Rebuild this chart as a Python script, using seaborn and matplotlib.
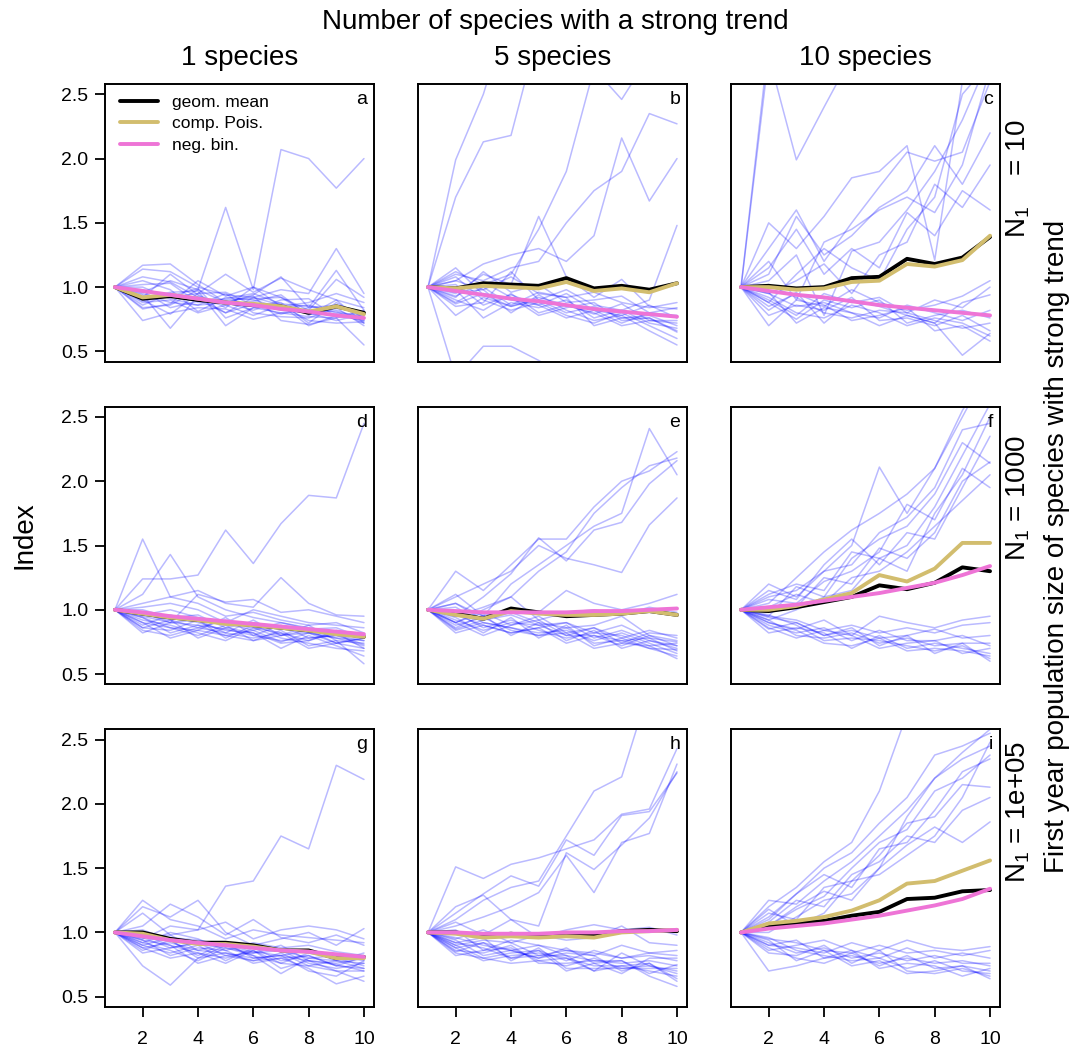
import numpy as np
import pandas as pd
import matplotlib.pyplot as plt
import seaborn as sns

# ------------------------------------- data -------------------------------------------
# index value per year (year 1 = 1.0) for every simulated species

years = list(range(1, 11))

# row 1: N1 = 10
a_species = [
    [1.0, 0.96, 1.05, 0.98, 1.62, 0.98, 2.07, 2.00, 1.77, 2.00],
    [1.0, 1.14, 1.12, 1.00, 0.94, 0.92, 0.98, 0.95, 1.30, 0.95],
    [1.0, 1.17, 1.18, 1.02, 0.88, 0.94, 1.08, 0.84, 1.13, 0.82],
    [1.0, 0.83, 0.87, 1.05, 0.93, 1.00, 0.92, 0.82, 1.06, 0.92],
    [1.0, 0.90, 0.79, 0.95, 1.10, 0.96, 1.07, 0.98, 0.90, 0.84],
    [1.0, 0.94, 0.68, 0.93, 0.86, 0.89, 0.94, 0.78, 0.90, 0.72],
    [1.0, 0.86, 0.95, 0.90, 0.80, 0.92, 0.86, 0.70, 0.78, 0.74],
    [1.0, 0.74, 0.80, 0.84, 0.83, 0.75, 0.80, 0.77, 0.76, 0.55],
    [1.0, 1.02, 1.03, 0.88, 0.91, 0.95, 0.87, 0.85, 0.82, 0.75],
    [1.0, 0.91, 0.96, 0.97, 0.70, 0.84, 0.88, 0.72, 0.88, 0.76],
    [1.0, 1.05, 0.98, 0.81, 0.92, 0.90, 0.84, 0.86, 0.80, 0.78],
    [1.0, 0.88, 0.90, 0.80, 0.86, 0.78, 0.86, 0.74, 0.72, 0.73],
    [1.0, 0.98, 0.92, 0.95, 0.96, 0.86, 0.79, 0.84, 0.86, 0.80],
    [1.0, 0.84, 0.86, 0.98, 0.88, 0.82, 0.90, 0.91, 0.77, 0.76],
    [1.0, 1.08, 1.04, 0.92, 0.80, 0.87, 0.82, 0.80, 0.74, 0.79],
    [1.0, 0.95, 0.88, 0.86, 0.95, 0.80, 0.77, 0.76, 0.84, 0.70],
    [1.0, 0.92, 1.10, 0.94, 0.84, 1.00, 0.85, 0.88, 0.95, 0.88],
    [1.0, 0.97, 0.84, 0.89, 0.90, 0.91, 0.92, 0.79, 0.79, 0.74],
    [1.0, 0.89, 0.93, 0.99, 0.76, 0.84, 0.80, 0.82, 0.81, 0.72],
    [1.0, 1.00, 0.91, 0.86, 0.88, 0.93, 0.74, 0.71, 0.76, 0.82],
]
a_geom = [1.0, 0.91, 0.93, 0.90, 0.88, 0.86, 0.85, 0.80, 0.85, 0.80]
a_pois = [1.0, 0.92, 0.94, 0.91, 0.88, 0.87, 0.85, 0.81, 0.85, 0.79]
a_negbin = [1.0, 0.97, 0.94, 0.91, 0.88, 0.86, 0.83, 0.81, 0.78, 0.76]

b_species = [
    [1.0, 1.99, 2.50, 3.20, 3.50, 3.60, 3.40, 3.80, 3.50, 3.90],
    [1.0, 1.70, 2.13, 2.18, 3.00, 3.20, 3.10, 3.50, 3.30, 3.60],
    [1.0, 1.05, 1.18, 1.25, 1.30, 1.20, 1.40, 2.16, 1.67, 2.00],
    [1.0, 1.10, 1.05, 1.15, 1.20, 1.50, 1.75, 1.90, 2.35, 2.27],
    [1.0, 1.12, 1.02, 1.10, 1.45, 1.90, 2.70, 2.46, 2.80, 3.00],
    [1.0, 0.78, 0.92, 0.85, 0.90, 0.98, 0.86, 0.82, 0.90, 1.48],
    [1.0, 0.95, 1.10, 1.02, 1.55, 1.08, 0.92, 1.06, 0.85, 0.83],
    [1.0, 0.30, 0.54, 0.54, 0.43, 0.30, 0.20, 0.20, 0.20, 0.20],
    [1.0, 1.05, 0.98, 1.08, 0.95, 0.92, 0.96, 0.88, 0.84, 0.88],
    [1.0, 0.92, 1.12, 0.96, 1.02, 0.88, 0.90, 0.93, 0.80, 0.84],
    [1.0, 0.87, 0.95, 0.90, 0.86, 0.95, 0.82, 0.78, 0.86, 0.76],
    [1.0, 1.15, 0.94, 0.85, 0.92, 0.86, 0.79, 0.87, 0.74, 0.74],
    [1.0, 0.85, 0.88, 1.12, 0.90, 0.80, 0.85, 0.76, 0.78, 0.70],
    [1.0, 0.98, 0.76, 0.88, 0.84, 0.90, 0.76, 0.82, 0.72, 0.68],
    [1.0, 0.93, 1.04, 0.92, 0.78, 0.84, 0.88, 0.74, 0.76, 0.65],
    [1.0, 1.08, 0.90, 0.82, 0.88, 0.78, 0.72, 0.80, 0.70, 0.60],
    [1.0, 0.90, 0.82, 0.95, 0.80, 0.86, 0.80, 0.70, 0.74, 0.72],
    [1.0, 0.96, 0.98, 0.80, 0.94, 0.82, 0.74, 0.78, 0.66, 0.55],
    [1.0, 1.02, 0.86, 0.94, 0.86, 0.76, 0.82, 0.72, 0.80, 0.78],
    [1.0, 0.88, 1.00, 0.86, 0.96, 0.92, 0.70, 0.76, 0.76, 0.66],
]
b_geom = [1.0, 0.99, 1.03, 1.02, 1.01, 1.07, 0.99, 1.01, 0.98, 1.03]
b_pois = [1.0, 0.99, 1.01, 1.00, 0.99, 1.04, 0.97, 0.99, 0.96, 1.03]
b_negbin = [1.0, 0.97, 0.94, 0.91, 0.89, 0.86, 0.83, 0.81, 0.79, 0.77]

c_species = [
    [1.0, 2.90, 3.20, 3.00, 3.40, 3.20, 3.50, 3.30, 3.60, 3.80],
    [1.0, 2.80, 1.99, 2.40, 2.80, 3.00, 2.90, 3.10, 3.20, 3.30],
    [1.0, 1.50, 1.30, 1.55, 1.85, 1.90, 2.10, 1.21, 2.60, 2.90],
    [1.0, 1.30, 1.60, 1.20, 1.50, 1.78, 2.05, 1.98, 2.05, 2.60],
    [1.0, 1.10, 1.55, 1.25, 1.40, 1.62, 1.75, 2.10, 1.80, 2.20],
    [1.0, 1.20, 0.90, 1.35, 1.45, 1.60, 1.70, 1.58, 1.95, 2.70],
    [1.0, 1.05, 1.25, 0.78, 1.28, 1.35, 1.60, 1.90, 2.30, 2.80],
    [1.0, 0.95, 1.05, 1.18, 0.95, 1.25, 1.35, 1.80, 1.62, 1.95],
    [1.0, 1.15, 1.45, 1.10, 1.30, 1.15, 1.58, 1.40, 1.75, 1.60],
    [1.0, 0.88, 1.10, 1.30, 1.15, 1.05, 1.45, 1.70, 2.50, 2.75],
    [1.0, 0.70, 0.90, 0.85, 0.98, 0.88, 0.82, 0.86, 0.93, 1.05],
    [1.0, 0.90, 0.78, 0.95, 0.88, 0.92, 0.80, 0.90, 0.84, 1.00],
    [1.0, 0.82, 0.96, 0.72, 0.90, 0.85, 0.78, 0.72, 0.88, 0.94],
    [1.0, 0.95, 0.85, 0.88, 0.80, 0.76, 0.86, 0.80, 0.74, 0.82],
    [1.0, 0.88, 0.75, 0.90, 0.84, 0.90, 0.72, 0.78, 0.82, 0.76],
    [1.0, 1.02, 0.92, 0.80, 0.76, 0.82, 0.80, 0.74, 0.68, 0.72],
    [1.0, 0.78, 0.86, 0.82, 0.92, 0.74, 0.76, 0.70, 0.78, 0.66],
    [1.0, 0.92, 0.80, 0.76, 0.86, 0.80, 0.70, 0.76, 0.72, 0.62],
    [1.0, 0.85, 0.95, 0.86, 0.74, 0.78, 0.84, 0.66, 0.70, 0.58],
    [1.0, 0.96, 0.72, 0.84, 0.80, 0.70, 0.78, 0.72, 0.47, 0.64],
]
c_geom = [1.0, 1.01, 0.99, 1.00, 1.07, 1.08, 1.22, 1.18, 1.23, 1.39]
c_pois = [1.0, 1.00, 0.98, 0.99, 1.04, 1.05, 1.18, 1.16, 1.21, 1.40]
c_negbin = [1.0, 0.97, 0.94, 0.92, 0.89, 0.86, 0.84, 0.82, 0.80, 0.78]

# row 2: N1 = 1000
d_species = [
    [1.0, 1.24, 1.24, 1.27, 1.62, 1.36, 1.67, 1.89, 1.87, 2.45],
    [1.0, 1.55, 1.10, 1.05, 0.95, 0.98, 0.92, 0.88, 0.90, 0.82],
    [1.0, 1.12, 1.43, 1.10, 1.00, 0.94, 0.90, 0.85, 0.86, 0.78],
    [1.0, 1.05, 1.10, 1.15, 1.05, 1.02, 1.25, 1.05, 0.96, 0.95],
    [1.0, 0.95, 0.90, 1.12, 1.06, 1.08, 0.98, 1.00, 0.95, 0.90],
    [1.0, 1.02, 1.05, 1.00, 0.90, 1.00, 0.95, 0.90, 0.88, 0.86],
    [1.0, 0.82, 0.90, 0.88, 0.85, 0.80, 0.88, 0.78, 0.80, 0.76],
    [1.0, 0.90, 0.78, 0.84, 0.80, 0.84, 0.75, 0.82, 0.78, 0.72],
    [1.0, 0.96, 0.92, 0.86, 0.92, 0.86, 0.82, 0.76, 0.84, 0.80],
    [1.0, 0.86, 0.84, 0.92, 0.78, 0.88, 0.80, 0.84, 0.74, 0.70],
    [1.0, 0.94, 0.86, 0.80, 0.88, 0.76, 0.84, 0.72, 0.76, 0.74],
    [1.0, 0.88, 0.96, 0.90, 0.84, 0.82, 0.70, 0.80, 0.72, 0.64],
    [1.0, 0.92, 0.88, 0.82, 0.76, 0.86, 0.78, 0.74, 0.70, 0.68],
    [1.0, 1.00, 0.94, 0.96, 0.86, 0.90, 0.86, 0.82, 0.78, 0.76],
    [1.0, 0.84, 0.80, 0.86, 0.82, 0.78, 0.82, 0.70, 0.74, 0.78],
    [1.0, 0.96, 1.00, 0.94, 0.90, 0.84, 0.90, 0.86, 0.82, 0.80],
    [1.0, 0.90, 0.86, 0.84, 0.94, 0.80, 0.76, 0.78, 0.80, 0.73],
    [1.0, 0.98, 0.90, 0.92, 0.82, 0.92, 0.80, 0.88, 0.76, 0.58],
    [1.0, 0.86, 0.92, 0.78, 0.86, 0.82, 0.74, 0.76, 0.82, 0.70],
    [1.0, 0.94, 0.82, 0.88, 0.80, 0.76, 0.80, 0.82, 0.74, 0.78],
]
d_geom = [1.0, 0.97, 0.94, 0.92, 0.90, 0.88, 0.86, 0.84, 0.82, 0.79]
d_pois = [1.0, 0.97, 0.94, 0.92, 0.89, 0.88, 0.86, 0.84, 0.81, 0.79]
d_negbin = [1.0, 0.98, 0.95, 0.93, 0.91, 0.89, 0.87, 0.85, 0.83, 0.81]

e_species = [
    [1.0, 1.05, 0.95, 1.20, 1.35, 1.50, 1.65, 1.75, 2.41, 2.05],
    [1.0, 0.90, 1.00, 1.10, 1.30, 1.45, 1.75, 1.95, 2.12, 2.18],
    [1.0, 1.30, 1.15, 1.35, 1.55, 1.55, 1.80, 2.00, 2.08, 2.23],
    [1.0, 1.10, 1.20, 1.30, 1.50, 1.40, 1.35, 1.29, 1.66, 1.87],
    [1.0, 0.95, 1.10, 1.28, 1.56, 1.38, 1.62, 1.68, 1.98, 2.16],
    [1.0, 1.12, 0.95, 1.00, 0.98, 1.15, 1.05, 1.00, 1.05, 1.12],
    [1.0, 0.95, 1.02, 1.10, 0.92, 0.98, 1.00, 0.96, 1.02, 0.98],
    [1.0, 0.85, 0.92, 0.98, 0.90, 0.86, 0.88, 0.95, 0.80, 0.72],
    [1.0, 0.90, 0.80, 0.88, 0.95, 0.82, 0.86, 0.78, 0.84, 0.78],
    [1.0, 0.82, 0.88, 0.82, 0.86, 0.90, 0.78, 0.84, 0.76, 0.70],
    [1.0, 0.98, 0.86, 0.92, 0.84, 0.78, 0.82, 0.80, 0.72, 0.74],
    [1.0, 0.88, 0.94, 0.84, 0.80, 0.86, 0.74, 0.76, 0.78, 0.68],
    [1.0, 0.92, 0.84, 0.90, 0.88, 0.80, 0.80, 0.72, 0.80, 0.76],
    [1.0, 1.02, 0.90, 0.86, 0.82, 0.84, 0.76, 0.82, 0.74, 0.66],
    [1.0, 0.86, 0.96, 0.80, 0.90, 0.76, 0.84, 0.70, 0.76, 0.72],
    [1.0, 0.94, 0.82, 0.94, 0.78, 0.88, 0.72, 0.78, 0.70, 0.64],
    [1.0, 0.90, 0.98, 0.88, 0.92, 0.80, 0.86, 0.74, 0.82, 0.80],
    [1.0, 0.96, 0.88, 0.82, 0.86, 0.74, 0.80, 0.76, 0.70, 0.69],
    [1.0, 0.84, 0.90, 0.86, 0.80, 0.82, 0.70, 0.74, 0.72, 0.62],
    [1.0, 1.05, 0.92, 0.96, 0.88, 0.90, 0.82, 0.88, 0.78, 0.75],
]
e_geom = [1.0, 0.97, 0.93, 1.01, 0.98, 0.95, 0.96, 0.97, 0.99, 0.96]
e_pois = [1.0, 0.96, 0.93, 0.99, 0.97, 0.96, 0.96, 0.97, 0.99, 0.96]
e_negbin = [1.0, 0.99, 0.98, 0.98, 0.98, 0.98, 0.99, 0.99, 1.00, 1.01]

f_species = [
    [1.0, 1.20, 1.10, 1.30, 1.50, 2.11, 1.75, 2.10, 2.55, 2.90],
    [1.0, 1.05, 1.25, 1.45, 1.62, 1.75, 1.90, 2.10, 2.50, 2.90],
    [1.0, 1.10, 1.15, 1.30, 1.35, 1.60, 1.72, 1.95, 2.40, 2.45],
    [1.0, 0.95, 1.18, 1.10, 1.40, 1.55, 1.65, 1.90, 2.30, 2.14],
    [1.0, 1.08, 1.05, 1.22, 1.30, 1.45, 1.82, 1.70, 2.10, 1.95],
    [1.0, 1.12, 1.20, 1.15, 1.45, 1.40, 1.50, 1.80, 2.20, 2.60],
    [1.0, 0.98, 1.02, 1.25, 1.20, 1.48, 1.40, 1.60, 2.00, 2.15],
    [1.0, 1.15, 1.08, 1.35, 1.55, 1.35, 1.60, 1.55, 1.95, 2.35],
    [1.0, 1.02, 1.12, 1.05, 1.25, 1.30, 1.45, 1.65, 1.85, 2.05],
    [1.0, 0.92, 1.00, 1.10, 1.15, 1.40, 1.30, 1.75, 2.05, 2.50],
    [1.0, 0.90, 0.85, 0.92, 0.80, 0.95, 0.90, 0.86, 0.92, 0.95],
    [1.0, 0.95, 0.92, 0.84, 0.88, 0.82, 0.86, 0.82, 0.88, 0.90],
    [1.0, 0.85, 0.90, 0.80, 0.84, 0.78, 0.80, 0.85, 0.78, 0.80],
    [1.0, 0.88, 0.82, 0.86, 0.76, 0.84, 0.76, 0.76, 0.80, 0.72],
    [1.0, 0.92, 0.80, 0.78, 0.82, 0.74, 0.78, 0.72, 0.74, 0.74],
    [1.0, 0.82, 0.86, 0.82, 0.70, 0.80, 0.70, 0.74, 0.70, 0.66],
    [1.0, 0.96, 0.88, 0.76, 0.78, 0.76, 0.72, 0.68, 0.72, 0.62],
    [1.0, 0.86, 0.78, 0.84, 0.80, 0.70, 0.74, 0.76, 0.66, 0.70],
    [1.0, 0.90, 0.84, 0.74, 0.72, 0.78, 0.68, 0.70, 0.68, 0.64],
    [1.0, 0.94, 0.90, 0.80, 0.86, 0.72, 0.80, 0.66, 0.74, 0.60],
]
f_geom = [1.0, 0.99, 1.02, 1.06, 1.10, 1.19, 1.16, 1.21, 1.33, 1.30]
f_pois = [1.0, 1.00, 1.03, 1.08, 1.13, 1.27, 1.22, 1.32, 1.52, 1.52]
f_negbin = [1.0, 1.02, 1.04, 1.07, 1.10, 1.13, 1.17, 1.21, 1.27, 1.34]

# row 3: N1 = 1e+05
g_species = [
    [1.0, 0.95, 1.05, 1.02, 1.36, 1.40, 1.75, 1.65, 2.30, 2.19],
    [1.0, 0.74, 0.59, 0.80, 0.90, 0.85, 0.82, 0.78, 0.75, 0.70],
    [1.0, 1.25, 1.10, 1.05, 0.95, 1.02, 0.98, 0.96, 0.94, 0.92],
    [1.0, 1.20, 1.12, 1.25, 1.00, 0.90, 0.95, 1.00, 0.90, 1.03],
    [1.0, 1.15, 0.98, 1.02, 1.08, 0.95, 1.02, 1.05, 1.02, 0.95],
    [1.0, 1.05, 1.22, 1.12, 0.98, 1.10, 0.96, 0.92, 0.98, 0.90],
    [1.0, 0.92, 1.00, 0.95, 0.86, 0.92, 0.88, 0.90, 0.85, 0.82],
    [1.0, 0.96, 0.88, 0.92, 0.88, 0.84, 0.86, 0.80, 0.82, 0.78],
    [1.0, 0.88, 0.92, 0.86, 0.92, 0.80, 0.82, 0.86, 0.78, 0.76],
    [1.0, 0.90, 0.84, 0.90, 0.78, 0.88, 0.78, 0.82, 0.74, 0.72],
    [1.0, 0.86, 0.94, 0.80, 0.84, 0.78, 0.84, 0.74, 0.70, 0.62],
    [1.0, 0.98, 0.90, 0.84, 0.80, 0.86, 0.72, 0.78, 0.76, 0.80],
    [1.0, 0.94, 0.82, 0.88, 0.86, 0.76, 0.80, 0.72, 0.60, 0.66],
    [1.0, 0.90, 0.96, 0.94, 0.90, 0.82, 0.76, 0.84, 0.80, 0.74],
    [1.0, 1.02, 0.94, 0.82, 0.92, 0.90, 0.86, 0.76, 0.72, 0.76],
    [1.0, 0.84, 0.88, 0.92, 0.82, 0.84, 0.90, 0.78, 0.70, 0.70],
    [1.0, 0.92, 0.86, 0.78, 0.88, 0.82, 0.68, 0.80, 0.78, 0.84],
    [1.0, 0.96, 0.98, 0.86, 0.84, 0.80, 0.82, 0.70, 0.66, 0.78],
    [1.0, 0.88, 0.80, 0.84, 0.76, 0.86, 0.76, 0.74, 0.78, 0.72],
    [1.0, 0.94, 0.90, 0.76, 0.82, 0.78, 0.80, 0.82, 0.74, 0.81],
]
g_geom = [1.0, 1.00, 0.95, 0.92, 0.92, 0.90, 0.86, 0.86, 0.80, 0.81]
g_pois = [1.0, 0.99, 0.94, 0.91, 0.91, 0.89, 0.86, 0.85, 0.80, 0.80]
g_negbin = [1.0, 0.97, 0.94, 0.92, 0.90, 0.88, 0.86, 0.85, 0.83, 0.81]

h_species = [
    [1.0, 1.51, 1.42, 1.53, 1.58, 1.65, 1.72, 1.92, 1.96, 2.43],
    [1.0, 1.10, 1.25, 1.35, 1.40, 1.75, 2.10, 2.21, 2.90, 3.20],
    [1.0, 1.05, 1.12, 1.20, 1.31, 1.60, 1.31, 1.70, 1.77, 2.31],
    [1.0, 1.15, 1.30, 1.44, 1.36, 1.72, 1.60, 1.91, 1.94, 2.24],
    [1.0, 1.20, 1.29, 1.10, 1.05, 1.62, 1.49, 1.68, 1.89, 2.25],
    [1.0, 1.08, 0.98, 1.10, 0.96, 1.02, 1.06, 1.02, 1.04, 0.98],
    [1.0, 0.95, 1.02, 0.92, 0.98, 0.94, 0.96, 1.05, 0.92, 0.90],
    [1.0, 0.85, 0.92, 0.86, 0.90, 0.86, 0.82, 0.90, 0.84, 0.86],
    [1.0, 0.90, 0.80, 0.84, 0.86, 0.78, 0.86, 0.80, 0.82, 0.78],
    [1.0, 0.92, 0.88, 0.80, 0.82, 0.82, 0.78, 0.76, 0.78, 0.74],
    [1.0, 0.82, 0.86, 0.88, 0.78, 0.74, 0.80, 0.72, 0.74, 0.70],
    [1.0, 0.88, 0.78, 0.82, 0.84, 0.80, 0.74, 0.74, 0.70, 0.66],
    [1.0, 0.96, 0.90, 0.86, 0.80, 0.84, 0.82, 0.70, 0.76, 0.62],
    [1.0, 0.86, 0.84, 0.90, 0.76, 0.76, 0.78, 0.78, 0.66, 0.58],
    [1.0, 0.92, 0.96, 0.78, 0.88, 0.72, 0.72, 0.72, 0.72, 0.72],
    [1.0, 0.94, 0.82, 0.86, 0.80, 0.88, 0.76, 0.68, 0.80, 0.80],
    [1.0, 1.02, 0.86, 0.94, 0.90, 0.82, 0.70, 0.84, 0.74, 0.68],
    [1.0, 0.88, 0.92, 0.80, 0.86, 0.70, 0.76, 0.78, 0.68, 0.75],
    [1.0, 0.90, 0.94, 0.92, 0.82, 0.86, 0.84, 0.80, 0.84, 0.82],
    [1.0, 0.84, 0.80, 0.76, 0.78, 0.80, 0.70, 0.74, 0.76, 0.64],
]
h_geom = [1.0, 1.00, 0.97, 0.99, 0.97, 0.99, 0.98, 1.01, 1.02, 1.01]
h_pois = [1.0, 0.99, 0.96, 0.97, 0.96, 0.97, 0.96, 1.00, 1.01, 1.02]
h_negbin = [1.0, 1.00, 0.99, 0.99, 0.99, 1.00, 1.00, 1.01, 1.01, 1.02]

i_species = [
    [1.0, 1.20, 1.35, 1.55, 1.70, 2.10, 2.70, 2.90, 3.00, 3.20],
    [1.0, 1.10, 1.30, 1.50, 1.62, 1.85, 2.05, 2.38, 2.45, 2.55],
    [1.0, 1.25, 1.22, 1.40, 1.55, 1.75, 1.95, 2.20, 2.35, 2.45],
    [1.0, 1.05, 1.18, 1.28, 1.50, 1.70, 1.80, 2.10, 2.20, 2.38],
    [1.0, 1.15, 1.10, 1.35, 1.40, 1.60, 1.85, 1.90, 2.15, 2.13],
    [1.0, 1.08, 1.25, 1.20, 1.45, 1.55, 1.75, 1.70, 1.95, 2.05],
    [1.0, 1.00, 1.12, 1.25, 1.30, 1.50, 1.68, 1.82, 1.70, 1.86],
    [1.0, 1.12, 1.30, 1.45, 1.35, 1.65, 1.70, 1.95, 2.25, 2.35],
    [1.0, 1.18, 1.05, 1.15, 1.40, 1.45, 1.60, 1.75, 2.05, 2.48],
    [1.0, 1.05, 1.20, 1.32, 1.25, 1.50, 1.90, 2.20, 2.40, 2.58],
    [1.0, 0.90, 0.88, 0.84, 0.92, 0.86, 0.94, 0.88, 0.86, 0.89],
    [1.0, 0.95, 0.92, 0.86, 0.84, 0.90, 0.84, 0.86, 0.82, 0.86],
    [1.0, 0.86, 0.90, 0.94, 0.86, 0.80, 0.88, 0.80, 0.84, 0.80],
    [1.0, 0.92, 0.84, 0.88, 0.80, 0.84, 0.78, 0.82, 0.76, 0.76],
    [1.0, 0.70, 0.74, 0.80, 0.82, 0.76, 0.80, 0.76, 0.78, 0.74],
    [1.0, 0.88, 0.80, 0.76, 0.84, 0.74, 0.82, 0.72, 0.74, 0.70],
    [1.0, 0.96, 0.86, 0.82, 0.78, 0.80, 0.72, 0.78, 0.70, 0.68],
    [1.0, 0.84, 0.82, 0.90, 0.76, 0.86, 0.70, 0.68, 0.72, 0.66],
    [1.0, 0.90, 0.94, 0.80, 0.86, 0.72, 0.76, 0.74, 0.66, 0.72],
    [1.0, 0.94, 0.78, 0.86, 0.74, 0.78, 0.68, 0.70, 0.74, 0.64],
]
i_geom = [1.0, 1.05, 1.07, 1.09, 1.13, 1.16, 1.26, 1.27, 1.32, 1.33]
i_pois = [1.0, 1.07, 1.09, 1.12, 1.17, 1.25, 1.38, 1.40, 1.48, 1.56]
i_negbin = [1.0, 1.03, 1.05, 1.07, 1.10, 1.13, 1.17, 1.21, 1.26, 1.34]

col_titles = ["1 species", "5 species", "10 species"]
row_titles = [r"$\mathrm{N}_1$    = 10", r"$\mathrm{N}_1$ = 1000", r"$\mathrm{N}_1$ = 1e+05"]
letters = ["a", "b", "c", "d", "e", "f", "g", "h", "i"]
legend_labels = ["geom. mean", "comp. Pois.", "neg. bin."]
y_ticks = [0.5, 1.0, 1.5, 2.0, 2.5]
x_ticks = [2, 4, 6, 8, 10]

panels = [
    (a_species, a_geom, a_pois, a_negbin),
    (b_species, b_geom, b_pois, b_negbin),
    (c_species, c_geom, c_pois, c_negbin),
    (d_species, d_geom, d_pois, d_negbin),
    (e_species, e_geom, e_pois, e_negbin),
    (f_species, f_geom, f_pois, f_negbin),
    (g_species, g_geom, g_pois, g_negbin),
    (h_species, h_geom, h_pois, h_negbin),
    (i_species, i_geom, i_pois, i_negbin),
]

# ------------------------------------- style ------------------------------------------
sns.set_style("ticks")
plt.rcParams['font.family'] = ['Liberation Sans', 'DejaVu Sans']
plt.rcParams['mathtext.fontset'] = 'custom'
plt.rcParams['mathtext.rm'] = 'Liberation Sans'
plt.rcParams['mathtext.it'] = 'Liberation Sans:italic'
# R look: everything plain black
for key in ['text.color', 'axes.labelcolor', 'xtick.color', 'ytick.color', 'axes.edgecolor']:
    plt.rcParams[key] = 'black'

col_geom = 'black'
col_pois = '#D2BD6E'
col_negbin = '#EE74D6'


def to_long(species):
    """ long table: one row per species and year """
    rows = []
    for k, series in enumerate(species):
        for yr, v in zip(years, series):
            rows.append((k, yr, v))
    return pd.DataFrame(rows, columns=['species', 'year', 'index'])


W, H = 1072, 1052
fig, axes = plt.subplots(3, 3, figsize=(W / 100, H / 100), dpi=100)
fig.subplots_adjust(left=105 / W, right=1000 / W, top=1 - 84 / H, bottom=1 - 1007 / H,
                    wspace=0.164, hspace=0.162)

for n, ax in enumerate(axes.flat):
    species, geom, pois, negbin = panels[n]
    row, col = divmod(n, 3)

    sns.lineplot(data=to_long(species), x='year', y='index', units='species',
                 estimator=None, color='blue', alpha=0.27, lw=1.1, ax=ax, legend=False)
    sns.lineplot(x=years, y=geom, color=col_geom, lw=2.8, ax=ax, label=legend_labels[0])
    sns.lineplot(x=years, y=pois, color=col_pois, lw=2.8, ax=ax, label=legend_labels[1])
    sns.lineplot(x=years, y=negbin, color=col_negbin, lw=2.8, ax=ax, label=legend_labels[2])

    if ax.get_legend() is not None:
        ax.get_legend().remove()

    ax.set_xlim(0.64, 10.36)
    ax.set_ylim(0.42, 2.58)
    ax.set_xlabel('')
    ax.set_ylabel('')
    for sp in ax.spines.values():
        sp.set_visible(True)
        sp.set_linewidth(1.4)
        sp.set_color('black')

    ax.tick_params(direction='out', length=7, width=1.3, labelsize=14, color='black',
                   labelcolor='black')
    if col == 0:
        ax.set_yticks(y_ticks)
        ax.set_yticklabels([f"{t:.1f}" for t in y_ticks])
        ax.tick_params(axis='y', pad=5)
    else:
        ax.set_yticks([])
    if row == 2:
        ax.set_xticks(x_ticks)
        ax.set_xticklabels([str(t) for t in x_ticks])
        ax.tick_params(axis='x', pad=10)
    else:
        ax.set_xticks([])

    ax.text(0.975, 0.975, letters[n], transform=ax.transAxes, ha='right', va='top', fontsize=14)

    if row == 0:
        ax.text(0.5, 1.095, col_titles[col], transform=ax.transAxes,
                ha='center', va='center', fontsize=20)
    if col == 2:
        ax.text(1.068, 0.445, row_titles[row], transform=ax.transAxes,
                ha='center', va='bottom', rotation=90, fontsize=20)

    if n == 0:
        ax.legend(loc='upper left', bbox_to_anchor=(0.03, 0.985), frameon=False,
                  fontsize=12.5, handlelength=2.2, handletextpad=0.8, labelspacing=0.35,
                  borderaxespad=0)

fig.text(0.518, 1 - 22 / H, "Number of species with a strong trend",
         ha='center', va='center', fontsize=20)
fig.text(25 / W, 1 - 535 / H, "Index", ha='center', va='center', rotation=90, fontsize=20)
fig.text(1057 / W, 1 - 546 / H, "First year population size of species with strong trend",
         ha='center', va='center', rotation=90, fontsize=20)

plt.savefig('out.png', dpi=100)
